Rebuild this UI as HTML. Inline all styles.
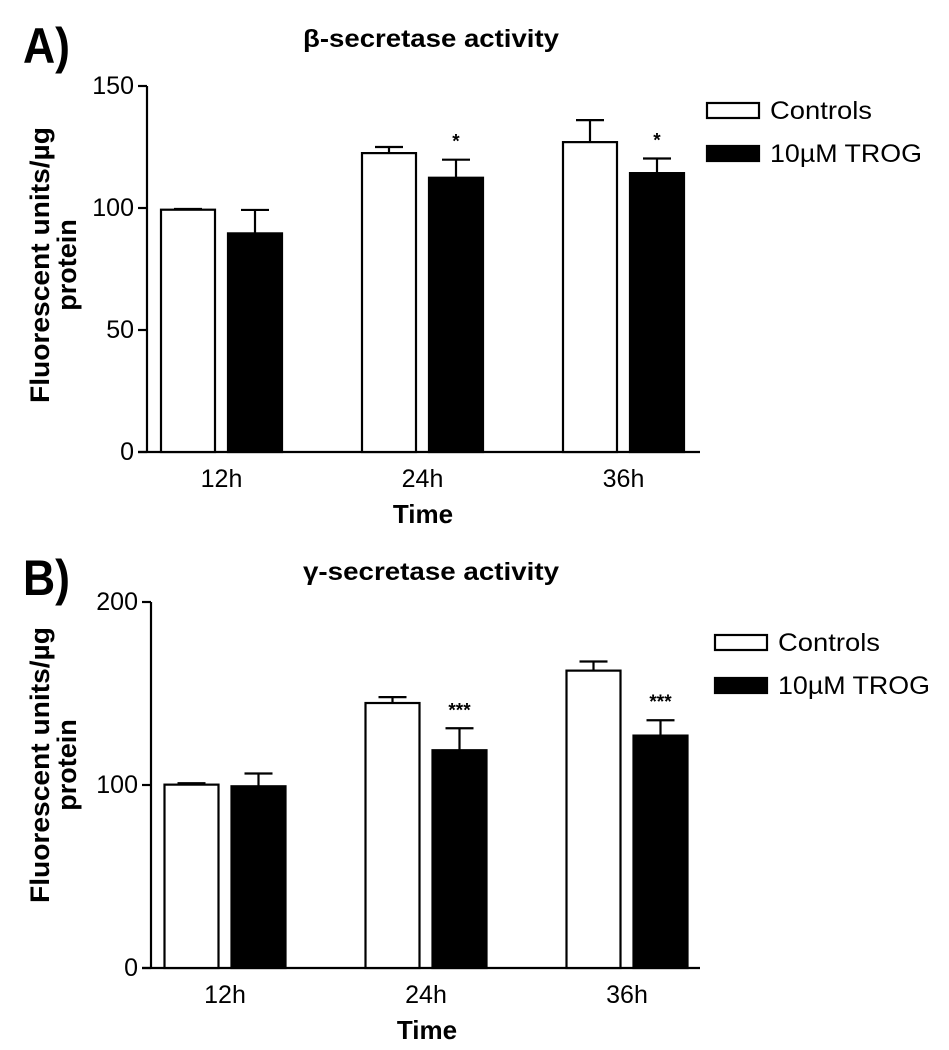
<!DOCTYPE html>
<html><head><meta charset="utf-8"><style>
body{margin:0;background:#fff;}
svg{display:block;font-family:"Liberation Sans",sans-serif;}
</style></head><body>
<svg id="fig" width="949" height="1050"></svg>
<script>
const categories=["12h","24h","36h"];
const aControls=[99.3,122.5,127];
const aControlsErr=[0.3,2.5,9];
const aTrog=[89.6,112.4,114.3];
const aTrogErr=[9.6,7.4,6];
const aSig=["","*","*"];
const aTicks=[0,50,100,150];
const bControls=[100.2,144.8,162.5];
const bControlsErr=[0.8,3.2,5];
const bTrog=[99.3,119,127];
const bTrogErr=[7,12,8.4];
const bSig=["","***","***"];
const bTicks=[0,100,200];

const NS="http://www.w3.org/2000/svg";
const svg=document.getElementById('fig');
function mk(tag,attrs,parent,text){const e=document.createElementNS(NS,tag);for(const k in attrs)e.setAttribute(k,attrs[k]);if(text!==undefined)e.textContent=text;(parent||svg).appendChild(e);return e;}

function panel(p){
  const g=mk('g',{});
  
  
  const y=v=>p.y0-(v-p.ymin)/(p.ymax-p.ymin)*(p.y0-p.y1);
  const grpX=i=>p.x0+p.gofs+i*201;
  const bw=54, gap=13;
  let t=mk('text',{x:23,y:p.letterY,'font-size':50,'font-weight':'bold',textLength:47,lengthAdjust:'spacingAndGlyphs'},g,p.letter);
  
  
  t=mk('text',{x:303,y:p.titleY,'font-size':25,'font-weight':'bold',textLength:256,lengthAdjust:'spacingAndGlyphs'},g,p.title);
  
  
  let a=mk('line',{x1:p.x0,y1:y(p.ymax),x2:p.x0,y2:p.y0,stroke:'#000','stroke-width':2.2},g);
  
  
  a=mk('line',{x1:p.x0-9,y1:p.y0,x2:p.xend,y2:p.y0,stroke:'#000','stroke-width':2.2},g);
  
  
  p.ticks.forEach(v=>{
    const l=mk('line',{x1:p.x0-9,y1:y(v),x2:p.x0,y2:y(v),stroke:'#000','stroke-width':2.2},g);
    
    
    const tl=mk('text',{x:p.x0-13,y:y(v)+8,'font-size':25,'text-anchor':'end'},g,String(v));
    
    
  });
  const yl=mk('text',{transform:`translate(49,${p.ylabC}) rotate(-90)`,'font-size':27,'font-weight':'bold','text-anchor':'middle'},g);
  
  
  mk('tspan',{x:0,dy:0,textLength:276,lengthAdjust:'spacingAndGlyphs'},yl,'Fluorescent units/\u00b5g');
  mk('tspan',{x:0,dy:27},yl,'protein');
  const xt=mk('text',{x:p.x0+276,y:p.y0+71,'font-size':26,'font-weight':'bold','text-anchor':'middle'},g,'Time');
  
  
  categories.forEach((c,i)=>{
    const gx=grpX(i);
    [[p.ctrl,p.ctrlErr,'#fff','control'],[p.trog,p.trogErr,'#000','trog']].forEach((s,j)=>{
      const bx=gx+j*(bw+gap), v=s[0][i], e=s[1][i];
      const cx=bx+bw/2;
      const el=mk('line',{x1:cx,y1:y(v),x2:cx,y2:y(v+e),stroke:'#000','stroke-width':2.2},g);
      
      
      const ec=mk('line',{x1:cx-14,y1:y(v+e),x2:cx+14,y2:y(v+e),stroke:'#000','stroke-width':2.2},g);
      
      
      const r=mk('rect',{x:bx,y:y(v),width:bw,height:p.y0-y(v),fill:s[2],stroke:'#000','stroke-width':2.2},g);
      
      
      if(j===1&&p.sig[i]){
        const st=mk('text',{x:cx,y:y(v+e)-12,'font-size':19,'font-weight':'bold','text-anchor':'middle'},g,p.sig[i]);
        
        
      }
    });
    const cl=mk('text',{x:gx+(2*bw+gap)/2,y:p.y0+35,'font-size':25,'text-anchor':'middle'},g,c);
    
    
  });
  [['Controls','#fff',102],['10\u00b5M TROG','#000',152]].forEach((L,k)=>{
    const ly=p.legY+k*43;
    const r=mk('rect',{x:p.legX,y:ly-7,width:52,height:15,fill:L[1],stroke:'#000','stroke-width':2.2},g);
    
    
    const lt=mk('text',{x:p.legX+63,y:ly+9,'font-size':25,textLength:L[2],lengthAdjust:'spacingAndGlyphs'},g,L[0]);
    
    
  });
}
panel({id:'beta',letter:'A)',letterY:63,title:'\u03b2-secretase activity',titleY:47,x0:147,y0:452,y1:86,ymin:0,ymax:150,ticks:aTicks,
  ctrl:aControls,ctrlErr:aControlsErr,trog:aTrog,trogErr:aTrogErr,sig:aSig,gofs:14,xend:700,ylabC:265,legX:707,legY:110});
panel({id:'gamma',letter:'B)',letterY:595,title:'\u03b3-secretase activity',titleY:580,x0:151,y0:968,y1:602,ymin:0,ymax:200,ticks:bTicks,
  ctrl:bControls,ctrlErr:bControlsErr,trog:bTrog,trogErr:bTrogErr,sig:bSig,gofs:13.5,xend:700,ylabC:765,legX:715,legY:642});
</script>
</body></html>
